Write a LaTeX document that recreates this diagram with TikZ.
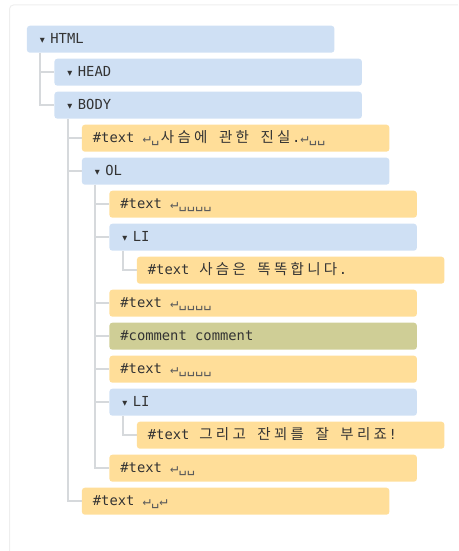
\documentclass[tikz,border=0pt]{standalone}
\usepackage{fontspec}
\usetikzlibrary{backgrounds}
\setmainfont{PT Sans}
\newfontfamily\monof{DejaVu Sans Mono}
\newfontfamily\cjk{Noto Sans CJK KR}
\newfontfamily\symf{DejaVu Sans}
\definecolor{elemc}{HTML}{CFE0F4}
\definecolor{textc}{HTML}{FFDE99}
\definecolor{commc}{HTML}{CFCE96}
\definecolor{linec}{HTML}{D6D9DC}
\definecolor{framec}{HTML}{EEEEEE}
\definecolor{txt}{HTML}{333333}
\newcommand\ko[1]{\makebox[16.6pt]{\cjk\fontsize{14.5}{14.5}\selectfont #1}}
\newcommand\ms{\hspace*{8.3pt}}
\newcommand\tri{\makebox[12.5pt][l]{\hspace{2pt}{\symf\fontsize{6.5}{6.5}\selectfont\raisebox{1.5pt}{▼}}}}
\newcommand\nlsym{{\color{txt!80}↵}}
\newcommand\spsym{{\color{txt!80}␣}}
\tikzset{
  box/.style={anchor=north west, minimum height=27pt, text width=285.5pt,
    inner xsep=11pt, inner ysep=0pt, align=left, rounded corners=3pt,
    text height=9.5pt, text depth=0pt, text=txt},
  elem/.style={box, fill=elemc, font=\monof\fontsize{13.8}{14}\selectfont},
  txtn/.style={box, fill=textc, font=\monof\fontsize{13.8}{14}\selectfont},
  comm/.style={box, fill=commc, font=\monof\fontsize{13.8}{14}\selectfont},
  conn/.style={draw=linec, line width=2pt}
}
\begin{document}
\begin{tikzpicture}[x=1pt,y=-1pt]
\useasboundingbox (0,0) rectangle (458,551);
\draw[framec, line width=1pt, rounded corners=4pt] (9.5,551) -- (9.5,5) -- (458,5);
% nodes
\node[elem] (html) at (26.7,25.5) {\tri HTML};
\node[elem] (head) at (54.2,58.5) {\tri HEAD};
\node[elem] (body) at (54.2,91.5) {\tri BODY};
\node[txtn] (t3) at (81.7,124.5) {\#text\ms\nlsym\spsym\ko{사}\ko{슴}\ko{에}\ms\ko{관}\ko{한}\ms\ko{진}\ko{실}.\nlsym\spsym\spsym};
\node[elem] (ol) at (81.7,157.5) {\tri OL};
\node[txtn] (t5) at (109.2,190.5) {\#text\ms\nlsym\spsym\spsym\spsym\spsym};
\node[elem] (li1) at (109.2,223.5) {\tri LI};
\node[txtn] (t7) at (136.7,256.5) {\#text\ms\ko{사}\ko{슴}\ko{은}\ms\ko{똑}\ko{똑}\ko{합}\ko{니}\ko{다}.};
\node[txtn] (t8) at (109.2,289.5) {\#text\ms\nlsym\spsym\spsym\spsym\spsym};
\node[comm] (c9) at (109.2,322.5) {\#comment\ms comment};
\node[txtn] (t10) at (109.2,355.5) {\#text\ms\nlsym\spsym\spsym\spsym\spsym};
\node[elem] (li2) at (109.2,388.5) {\tri LI};
\node[txtn] (t12) at (136.7,421.5) {\#text\ms\ko{그}\ko{리}\ko{고}\ms\ko{잔}\ko{꾀}\ko{를}\ms\ko{잘}\ms\ko{부}\ko{리}\ko{죠}!};
\node[txtn] (t13) at (109.2,454.5) {\#text\ms\nlsym\spsym\spsym};
\node[txtn] (t14) at (81.7,487.5) {\#text\ms\nlsym\spsym\nlsym};
\begin{scope}[on background layer]
\draw[conn] ([xshift=13.5pt]html.south west) |- (head.west);
\draw[conn] ([xshift=13.5pt]html.south west) |- (body.west);
\draw[conn] ([xshift=13.5pt]body.south west) |- (t3.west);
\draw[conn] ([xshift=13.5pt]body.south west) |- (ol.west);
\draw[conn] ([xshift=13.5pt]body.south west) |- (t14.west);
\draw[conn] ([xshift=13.5pt]ol.south west) |- (t5.west);
\draw[conn] ([xshift=13.5pt]ol.south west) |- (li1.west);
\draw[conn] ([xshift=13.5pt]ol.south west) |- (t8.west);
\draw[conn] ([xshift=13.5pt]ol.south west) |- (c9.west);
\draw[conn] ([xshift=13.5pt]ol.south west) |- (t10.west);
\draw[conn] ([xshift=13.5pt]ol.south west) |- (li2.west);
\draw[conn] ([xshift=13.5pt]ol.south west) |- (t13.west);
\draw[conn] ([xshift=13.5pt]li1.south west) |- (t7.west);
\draw[conn] ([xshift=13.5pt]li2.south west) |- (t12.west);
\end{scope}
\end{tikzpicture}
\end{document}
